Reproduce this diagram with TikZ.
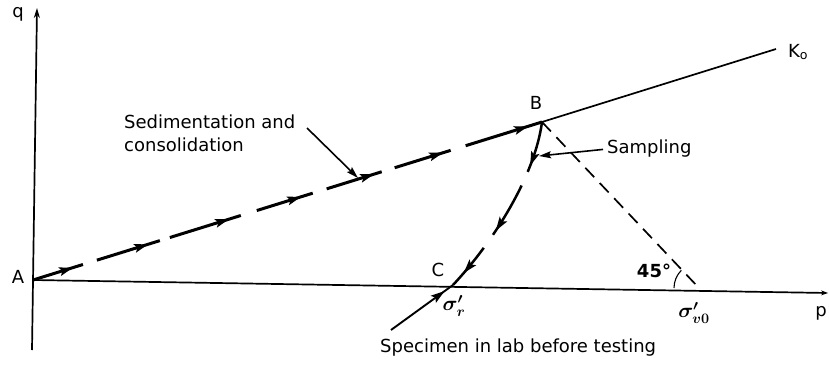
\documentclass[tikz,border=0pt]{standalone}
\usepackage{fontspec}
\setmainfont{DejaVu Sans}
\usetikzlibrary{arrows.meta,calc,decorations.markings}
\begin{document}
\begin{tikzpicture}[x=1pt,y=-1pt,
  lbl/.style={inner sep=0pt,font=\fontsize{18}{23}\selectfont},
  sym/.style={inner sep=0pt,font=\fontsize{20}{22}\selectfont\boldmath},
  axisline/.style={line width=1.7pt},
  leader/.style={line width=1.6pt,-{Stealth[length=12pt,width=7pt,inset=2pt]}},
  fwd/.style={decoration={markings,#1},postaction={decorate}},
]
\newcommand{\ptip}{\fill[solid] (1pt,0pt) -- (-13pt,4.5pt) -- (-10pt,0pt) -- (-13pt,-4.5pt) -- cycle;}
\useasboundingbox (0,0) rectangle (829,364);
% points
\coordinate (A) at (33,280);
\coordinate (B) at (542,122);
\coordinate (C) at (453,285);
\coordinate (D) at (699,288);
\coordinate (Kend) at (776,49);
\coordinate (ybot) at (32,350);
\coordinate (ytop) at (37,8);
\coordinate (xend) at (828,293);
\coordinate (spec) at (391,330);
\coordinate (sedtail) at (307,128);
\coordinate (sedhead) at (358,178);
\coordinate (samphead) at (539,156);
% axes
\draw[axisline,-{Stealth[length=10pt,width=6pt]}] (ybot) -- (ytop);
\draw[axisline,-{Stealth[length=7pt,width=5pt]}] (A) -- (xend);
% K0 line
\draw[line width=1.7pt] (B) -- (Kend);
% sedimentation path
\draw[line width=3pt,
  dash pattern=on 52.3pt off 14.6pt on 65.9pt off 10.5pt on 74.3pt off 16.7pt on 58.6pt off 14.6pt on 57.6pt off 13.6pt on 58.6pt off 15.7pt on 80pt,
  fwd={mark=at position 0.0766 with {\ptip},
       mark=at position 0.224 with {\ptip},
       mark=at position 0.383 with {\ptip},
       mark=at position 0.5246 with {\ptip},
       mark=at position 0.668 with {\ptip},
       mark=at position 0.8035 with {\ptip},
       mark=at position 0.9705 with {\ptip}}]
  (A) -- (B);
% sampling / unloading path
\draw[line width=2.5pt,
  dash pattern=on 52pt off 15pt on 57pt off 16pt on 80pt,
  fwd={mark=at position 44pt with {\ptip},
       mark=at position 118pt with {\ptip},
       mark=at position 171pt with {\ptip}}]
  (B) .. controls (535,175) and (495,240) .. (C);
% specimen leader
\draw[line width=1.9pt,
  fwd={mark=at position 0.85 with {\ptip}}]
  (spec) -- (C);
% 45 degree line
\draw[line width=1.7pt,dash pattern=on 13pt off 8pt] (B) -- (D);
\draw[line width=1.1pt] (D) ++(-25,0) arc[start angle=180,end angle=225,radius=25];
% labels
\node[lbl] (lq) at (18,14) {q};
\node[lbl] (lA) at (18,277) {A};
\node[lbl] (lB) at (536,103) {B};
\node[lbl] (lC) at (438,270) {C};
\node[lbl] (lK) at (798,52) {K\textsubscript{o}};
\node[lbl] (lp) at (821,313) {p};
\node[lbl,font=\fontsize{18}{20}\selectfont\bfseries] (l45) at (654,271) {45°};
\node[sym] (lsr) at (454,306) {$\sigma'_r$};
\node[sym] (lsv) at (694,313) {$\sigma'_{v0}$};
\node[lbl,align=left,anchor=north west] (sed) at (124,115) {Sedimentation and\\consolidation};
\node[lbl,anchor=west] (samp) at (607,149) {Sampling};
\node[lbl,anchor=base west] (specl) at (380,352) {Specimen in lab before testing};
% leaders
\draw[leader] (sedtail) -- (sedhead);
\draw[leader,shorten <=4pt] (samp.west) -- (samphead);
\end{tikzpicture}
\end{document}
